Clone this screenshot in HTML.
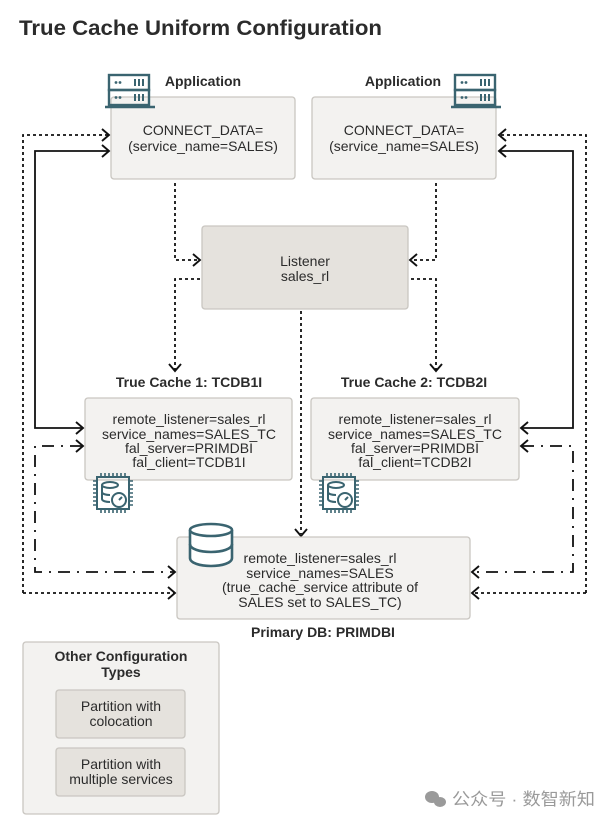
<!DOCTYPE html>
<html><head><meta charset="utf-8"><style>
html,body{margin:0;padding:0;background:#fff;}
svg{display:block;}
text{font-family:"Liberation Sans","Noto Sans CJK SC",sans-serif;fill:#2b2b2b;}
.b{font-weight:bold;}
</style></head><body>
<svg width="616" height="824" viewBox="0 0 616 824" xmlns="http://www.w3.org/2000/svg">
<defs>
<g id="srv" fill="none" stroke="#3a6470" stroke-width="2.4">
<rect x="4" y="1" width="40" height="15"/><rect x="4" y="16" width="40" height="15"/>
<line x1="0" y1="33" x2="50" y2="33"/>
<g fill="#3a6470" stroke="none"><circle cx="11" cy="8.5" r="1.4"/><circle cx="15" cy="8.5" r="1.4"/><rect x="29" y="5" width="2" height="7"/><rect x="33" y="5" width="2" height="7"/><rect x="37" y="5" width="2" height="7"/>
<circle cx="11" cy="23.5" r="1.4"/><circle cx="15" cy="23.5" r="1.4"/><rect x="29" y="20" width="2" height="7"/><rect x="33" y="20" width="2" height="7"/><rect x="37" y="20" width="2" height="7"/></g>
</g>
<g id="chip" fill="none" stroke="#3a6470" stroke-width="2">
<rect x="4" y="4" width="32" height="32"/>
<path d="M8 0v3M12 0v3M16 0v3M20 0v3M24 0v3M28 0v3M32 0v3M8 37v3M12 37v3M16 37v3M20 37v3M24 37v3M28 37v3M32 37v3M0 8h3M0 12h3M0 16h3M0 20h3M0 24h3M0 28h3M0 32h3M37 8h3M37 12h3M37 16h3M37 20h3M37 24h3M37 28h3M37 32h3" stroke-width="1.6"/>
<ellipse cx="17" cy="12" rx="8" ry="3"/><path d="M9 12v14c0 2 4 3 8 3M9 19c0 2 4 3 8 3"/>
<circle cx="26" cy="27" r="7"/><path d="M26 27l3-3"/>
</g>
<path id="ah" d="M-7 -6 L0 0 L-7 6" fill="none" stroke="#111" stroke-width="1.9"/>
</defs>

<text x="19" y="35" class="b" font-size="21" textLength="363" lengthAdjust="spacingAndGlyphs" fill="#111">True Cache Uniform Configuration</text>

<g fill="none" stroke="#111" stroke-width="1.8">
<path d="M23 593V135H108" stroke-dasharray="3,3"/>
<path d="M586 593V135H500" stroke-dasharray="3,3"/>
<path d="M108 151H35V428H82"/>
<path d="M500 151H573V428H522"/>
<path d="M82 446H35V572H174" stroke-dasharray="12,7,2,7"/>
<path d="M522 446H573V572H473" stroke-dasharray="12,7,2,7"/>
<path d="M23 593H174M586 593H473" stroke-dasharray="3,3"/>
<path d="M175 183V260H199" stroke-dasharray="3,3"/>
<path d="M436 183V260H411" stroke-dasharray="3,3"/>
<path d="M200 279H175V370" stroke-dasharray="3,3"/>
<path d="M411 279H436V370" stroke-dasharray="3,3"/>
<path d="M301 311V534" stroke-dasharray="3,3"/>
</g>
<use href="#ah" transform="translate(109,135)"/>
<use href="#ah" transform="translate(109,151)"/>
<use href="#ah" transform="translate(499,135) rotate(180)"/>
<use href="#ah" transform="translate(499,151) rotate(180)"/>
<use href="#ah" transform="translate(83,428)"/>
<use href="#ah" transform="translate(83,446)"/>
<use href="#ah" transform="translate(521,428) rotate(180)"/>
<use href="#ah" transform="translate(521,446) rotate(180)"/>
<use href="#ah" transform="translate(175,572)"/>
<use href="#ah" transform="translate(175,593)"/>
<use href="#ah" transform="translate(472,572) rotate(180)"/>
<use href="#ah" transform="translate(472,593) rotate(180)"/>
<use href="#ah" transform="translate(200,260)"/>
<use href="#ah" transform="translate(410,260) rotate(180)"/>
<use href="#ah" transform="translate(175,371) rotate(90)"/>
<use href="#ah" transform="translate(436,371) rotate(90)"/>
<use href="#ah" transform="translate(301,536) rotate(90)"/>

<g stroke="#c9c6c1" stroke-width="1.3">
<rect x="111" y="97" width="184" height="82" rx="3" fill="#f3f2f0"/>
<rect x="312" y="97" width="184" height="82" rx="3" fill="#f3f2f0"/>
<rect x="202" y="226" width="206" height="83" rx="3" fill="#e5e2dd"/>
<rect x="85" y="398" width="207" height="82" rx="3" fill="#f3f2f0"/>
<rect x="311" y="398" width="208" height="82" rx="3" fill="#f3f2f0"/>
<rect x="177" y="537" width="293" height="82" rx="3" fill="#f3f2f0"/>
<rect x="23" y="642" width="196" height="172" rx="3" fill="#f3f2f0"/>
<rect x="56" y="690" width="129" height="48" rx="3" fill="#e5e2dd"/>
<rect x="56" y="748" width="129" height="48" rx="3" fill="#e5e2dd"/>
</g>

<use href="#srv" transform="translate(105,74)"/>
<use href="#srv" transform="translate(451,74)"/>
<use href="#chip" transform="translate(93,473)"/>
<use href="#chip" transform="translate(319,473)"/>
<g fill="#fff" stroke="#3a6470" stroke-width="2.6">
<path d="M190 530v28c0 5 10 8 21 8s21-3 21-8v-28"/>
<ellipse cx="211" cy="530" rx="21" ry="6"/>
<path d="M190 544c0 5 10 8 21 8s21-3 21-8" fill="none"/>
</g>

<g font-size="14" text-anchor="middle">
<text x="203" y="86" class="b">Application</text>
<text x="403" y="86" class="b">Application</text>
<text x="203" y="135">CONNECT_DATA=</text>
<text x="203" y="151">(service_name=SALES)</text>
<text x="404" y="135">CONNECT_DATA=</text>
<text x="404" y="151">(service_name=SALES)</text>
<text x="305" y="266">Listener</text>
<text x="305" y="281">sales_rl</text>
<text x="189" y="387" class="b">True Cache 1: TCDB1I</text>
<text x="414" y="387" class="b">True Cache 2: TCDB2I</text>
<text x="189" y="424">remote_listener=sales_rl</text>
<text x="189" y="439">service_names=SALES_TC</text>
<text x="189" y="453">fal_server=PRIMDBI</text>
<text x="189" y="467">fal_client=TCDB1I</text>
<text x="415" y="424">remote_listener=sales_rl</text>
<text x="415" y="439">service_names=SALES_TC</text>
<text x="415" y="453">fal_server=PRIMDBI</text>
<text x="415" y="467">fal_client=TCDB2I</text>
<text x="320" y="563">remote_listener=sales_rl</text>
<text x="320" y="578">service_names=SALES</text>
<text x="320" y="592">(true_cache_service attribute of</text>
<text x="320" y="607">SALES set to SALES_TC)</text>
<text x="323" y="637" class="b">Primary DB: PRIMDBI</text>
<text x="121" y="661" class="b">Other Configuration</text>
<text x="121" y="677" class="b">Types</text>
<text x="121" y="711">Partition with</text>
<text x="121" y="726">colocation</text>
<text x="121" y="769">Partition with</text>
<text x="121" y="784">multiple services</text>
</g>

<g fill="#9a9a9a">
<ellipse cx="432" cy="797" rx="7" ry="6"/><ellipse cx="440" cy="802" rx="6" ry="5"/>
</g>
<text x="452" y="805" font-size="17" textLength="143" lengthAdjust="spacingAndGlyphs" style="fill:#9a9a9a">公众号 · 数智新知</text>
</svg>
</body></html>
